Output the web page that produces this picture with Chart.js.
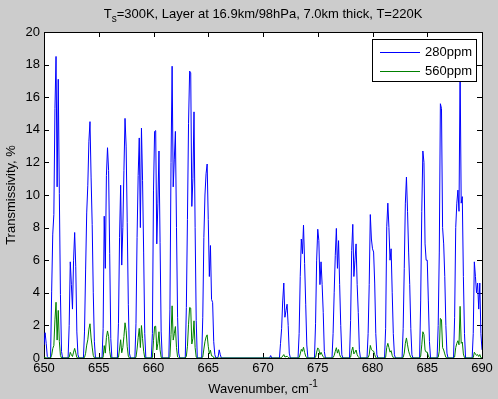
<!DOCTYPE html>
<html>
<head>
<meta charset="utf-8">
<title>Transmissivity</title>
<script src="https://cdn.jsdelivr.net/npm/chart.js@4.4.1/dist/chart.umd.min.js"></script>
<style>
  body { margin: 0; background: #cccccc; }
  #wrap { width: 498px; height: 399px; }
</style>
</head>
<body>
<div id="wrap"><canvas id="chart" width="498" height="399"></canvas></div>
<script>
// Spectrum, one line group per absorption-line cluster
const wavenumber = [
    650.0, 650.1, 650.2, 650.3, 650.4,
    650.6, 650.7, 650.8, 650.9, 651.0, 651.1, 651.2, 651.3, 651.4, 651.5, 651.6, 651.7,
    652.2, 652.3, 652.4, 652.5, 652.6, 652.7, 652.8, 652.9, 653.0, 653.1, 653.2,
    653.6, 653.7, 653.8, 653.9, 654.0, 654.1, 654.2, 654.3, 654.4, 654.5, 654.6, 654.7,
    655.3, 655.4, 655.5, 655.6, 655.7, 655.8, 655.9, 656.0, 656.1, 656.2,
    656.7, 656.8, 656.9, 657.0, 657.1, 657.2, 657.3, 657.4, 657.5, 657.6, 657.7, 657.8, 657.9,
    658.3, 658.4, 658.5, 658.6, 658.7, 658.8, 658.9, 659.0, 659.1, 659.2, 659.3,
    659.8, 659.9, 660.0, 660.1, 660.2, 660.3, 660.4, 660.5, 660.6, 660.7, 660.8,
    661.4, 661.5, 661.6, 661.7, 661.8, 661.9, 662.0, 662.1, 662.2, 662.3, 662.4,
    662.9, 663.0, 663.1, 663.2, 663.3, 663.4, 663.5, 663.6, 663.7, 663.8, 663.9, 664.0,
    664.4, 664.5, 664.6, 664.7, 664.8, 664.9, 665.0, 665.1, 665.2, 665.3, 665.4, 665.5, 665.6, 665.7,
    665.9, 666.0, 666.1, 666.2,
    670.6, 670.7, 670.8,
    671.5, 671.6, 671.7, 671.8, 671.9, 672.0, 672.1, 672.2, 672.3, 672.4, 672.5,
    673.2, 673.3, 673.4, 673.5, 673.6, 673.7, 673.8, 673.9, 674.0, 674.1,
    674.7, 674.8, 674.9, 675.0, 675.1, 675.2, 675.3, 675.4, 675.5, 675.6, 675.7,
    676.3, 676.4, 676.5, 676.6, 676.7, 676.8, 676.9, 677.0, 677.1, 677.2, 677.3,
    677.9, 678.0, 678.1, 678.2, 678.3, 678.4, 678.5, 678.6, 678.7, 678.8, 678.9,
    679.5, 679.6, 679.7, 679.8, 679.9, 680.0, 680.1, 680.2, 680.3, 680.4, 680.5,
    681.1, 681.2, 681.3, 681.4, 681.5, 681.6, 681.7, 681.8, 681.9, 682.0, 682.1,
    682.7, 682.8, 682.9, 683.0, 683.1, 683.2, 683.3, 683.4, 683.5, 683.6, 683.7,
    684.3, 684.4, 684.5, 684.6, 684.7, 684.8, 684.9, 685.0, 685.1, 685.2, 685.3,
    685.9, 686.0, 686.1, 686.2, 686.3, 686.4, 686.5, 686.6, 686.7, 686.8, 686.9,
    687.4, 687.5, 687.6, 687.7, 687.8, 687.9, 688.0, 688.1, 688.2, 688.3, 688.4, 688.5,
    689.1, 689.2, 689.3, 689.4, 689.5, 689.6, 689.7, 689.8, 689.9, 690.0
];

const trans280 = [
    0.8, 1.55, 0.9, 0.1, 0,
    0, 4.1, 7.6, 8.8, 15.3, 18.5, 10.5, 17.1, 10.1, 3.9, 0.4, 0,
    0, 2.0, 5.9, 4.5, 3.0, 6.0, 7.7, 5.6, 1.6, 0.2, 0,
    0, 1.6, 5.4, 8.9, 10.6, 13.3, 14.5, 11.1, 8.2, 4.0, 1.0, 0,
    0, 1.8, 8.7, 5.5, 11.2, 12.9, 11.5, 6.4, 1.2, 0,
    0, 2.1, 7.4, 10.6, 5.7, 8.0, 11.5, 14.7, 13.0, 8.3, 3.3, 0.3, 0,
    0, 2.1, 7.4, 11.2, 13.5, 8.0, 14.1, 10.9, 6.5, 1.5, 0,
    0, 1.5, 10.3, 13.9, 13.95, 7.0, 9.5, 12.7, 7.1, 1.6, 0,
    0, 3.0, 12.0, 17.9, 10.5, 12.2, 13.9, 8.0, 2.5, 0.3, 0,
    0, 3.1, 8.5, 14.4, 17.6, 17.5, 9.3, 11.0, 15.1, 8.0, 2.3, 0,
    0, 2.5, 7.4, 10.0, 11.3, 11.9, 8.5, 5.0, 6.9, 3.6, 3.4, 1.0, 0.2, 0,
    0.05, 0.5, 0.2, 0,
    0, 0.15, 0,
    0, 0.9, 1.8, 3.5, 4.6, 2.5, 2.9, 3.3, 2.0, 0.3, 0,
    0, 1.5, 5.0, 7.3, 6.4, 8.15, 5.8, 3.3, 0.8, 0,
    0, 2.1, 6.0, 7.9, 7.2, 4.5, 5.9, 4.5, 2.8, 0.4, 0,
    0, 1.5, 4.0, 6.3, 7.95, 5.5, 7.2, 4.5, 2.0, 0.2, 0,
    0, 2.3, 6.6, 8.2, 5.0, 6.0, 7.0, 4.5, 2.8, 0.5, 0,
    0, 1.5, 4.5, 8.8, 7.3, 6.7, 6.5, 4.6, 1.5, 0.2, 0,
    0, 1.8, 8.05, 9.5, 8.0, 6.0, 6.7, 4.0, 1.5, 0.2, 0,
    0, 1.8, 5.5, 9.5, 11.1, 9.0, 6.5, 4.5, 1.8, 0.2, 0,
    0, 3.5, 9.0, 12.7, 12.0, 7.0, 6.0, 6.0, 3.5, 1.0, 0,
    0, 2.0, 6.5, 15.6, 15.3, 8.0, 7.0, 5.0, 2.0, 0.3, 0,
    0, 2.5, 8.0, 9.5, 10.3, 9.0, 17.8, 9.5, 9.9, 5.0, 1.5, 0,
    0, 1.5, 5.9, 5.0, 4.0, 4.6, 3.0, 4.6, 1.5, 0.5
];

const trans560 = [
    0.01, 0.02, 0.01, 0, 0,
    0, 0.17, 0.58, 0.77, 2.34, 3.42, 1.1, 2.92, 1.02, 0.15, 0, 0,
    0, 0.04, 0.35, 0.2, 0.09, 0.36, 0.59, 0.31, 0.03, 0, 0,
    0, 0.03, 0.29, 0.79, 1.12, 1.77, 2.1, 1.23, 0.67, 0.16, 0.01, 0,
    0, 0.03, 0.76, 0.3, 1.25, 1.66, 1.32, 0.41, 0.01, 0,
    0, 0.04, 0.55, 1.12, 0.32, 0.64, 1.32, 2.16, 1.69, 0.69, 0.11, 0, 0,
    0, 0.04, 0.55, 1.25, 1.82, 0.64, 1.99, 1.19, 0.42, 0.02, 0,
    0, 0.02, 1.06, 1.93, 1.95, 0.49, 0.9, 1.61, 0.5, 0.03, 0,
    0, 0.09, 1.44, 3.2, 1.1, 1.49, 1.93, 0.64, 0.06, 0, 0,
    0, 0.1, 0.72, 2.07, 3.1, 3.06, 0.86, 1.21, 2.28, 0.64, 0.05, 0,
    0, 0.06, 0.55, 1.0, 1.28, 1.42, 0.72, 0.25, 0.48, 0.13, 0.12, 0.01, 0, 0,
    0, 0, 0, 0,
    0, 0, 0,
    0, 0.01, 0.03, 0.12, 0.21, 0.06, 0.08, 0.11, 0.04, 0, 0,
    0, 0.02, 0.25, 0.53, 0.41, 0.66, 0.34, 0.11, 0.01, 0,
    0, 0.04, 0.36, 0.62, 0.52, 0.2, 0.35, 0.2, 0.08, 0, 0,
    0, 0.02, 0.16, 0.4, 0.63, 0.3, 0.52, 0.2, 0.04, 0, 0,
    0, 0.05, 0.44, 0.67, 0.25, 0.36, 0.49, 0.2, 0.08, 0, 0,
    0, 0.02, 0.2, 0.77, 0.53, 0.45, 0.42, 0.21, 0.02, 0, 0,
    0, 0.03, 0.65, 0.9, 0.64, 0.36, 0.45, 0.16, 0.02, 0, 0,
    0, 0.03, 0.3, 0.9, 1.23, 0.81, 0.42, 0.2, 0.03, 0, 0,
    0, 0.12, 0.81, 1.61, 1.44, 0.49, 0.36, 0.36, 0.12, 0.01, 0,
    0, 0.04, 0.42, 2.43, 2.34, 0.64, 0.49, 0.25, 0.04, 0, 0,
    0, 0.06, 0.64, 0.9, 1.06, 0.81, 3.17, 0.9, 0.98, 0.25, 0.02, 0,
    0, 0.02, 0.35, 0.25, 0.16, 0.21, 0.09, 0.21, 0.02, 0
];

const xTicks = [650, 655, 660, 665, 670, 675, 680, 685, 690];
const yTicks = [0, 2, 4, 6, 8, 10, 12, 14, 16, 18, 20];
const seriesNames = ['280ppm', '560ppm'];

const FONT = '"Liberation Sans", Arial, sans-serif';

function toPoints(values) {
    return wavenumber.map((x, i) => ({ x: x, y: values[i] }));
}

// text with a raised or lowered piece, e.g. T_s or cm^-1
function drawRichText(ctx, parts, cx, baseline) {
    let width = 0;
    parts.forEach(p => {
        ctx.font = (p.shift ? 10 : 13) + 'px ' + FONT;
        p.w = ctx.measureText(p.text).width;
        width += p.w;
    });
    let x = cx - width / 2;
    parts.forEach(p => {
        ctx.font = (p.shift ? 10 : 13) + 'px ' + FONT;
        ctx.fillText(p.text, x, baseline + (p.shift || 0));
        x += p.w;
    });
}

const matlabFrame = {
    id: 'matlabFrame',
    beforeDraw(chart) {
        const ctx = chart.ctx;
        const a = chart.chartArea;
        ctx.save();
        ctx.fillStyle = '#cccccc';
        ctx.fillRect(0, 0, chart.width, chart.height);
        ctx.fillStyle = '#ffffff';
        ctx.fillRect(a.left, a.top, a.right - a.left, a.bottom - a.top);
        ctx.restore();
    },
    // box and ticks go under the curves, like MATLAB does
    beforeDatasetsDraw(chart) {
        const ctx = chart.ctx;
        const a = chart.chartArea;
        const xs = chart.scales.x;
        const ys = chart.scales.y;
        ctx.save();
        ctx.strokeStyle = '#000000';
        ctx.lineWidth = 1;
        ctx.beginPath();
        xTicks.forEach(v => {
            const px = Math.round(xs.getPixelForValue(v)) + 0.5;
            ctx.moveTo(px, a.bottom);
            ctx.lineTo(px, a.bottom - 5);
            ctx.moveTo(px, a.top);
            ctx.lineTo(px, a.top + 5);
        });
        yTicks.forEach(v => {
            const py = Math.round(ys.getPixelForValue(v)) + 0.5;
            ctx.moveTo(a.left, py);
            ctx.lineTo(a.left + 5, py);
            ctx.moveTo(a.right, py);
            ctx.lineTo(a.right - 5, py);
        });
        ctx.stroke();
        ctx.strokeRect(Math.round(a.left) + 0.5, Math.round(a.top) + 0.5,
            Math.round(a.right - a.left), Math.round(a.bottom - a.top));
        ctx.restore();
    },
    afterDraw(chart) {
        const ctx = chart.ctx;
        const a = chart.chartArea;
        ctx.save();

        // title and axis labels
        ctx.fillStyle = '#000000';
        ctx.textAlign = 'left';
        ctx.textBaseline = 'alphabetic';
        drawRichText(ctx, [
            { text: 'T' },
            { text: 's', shift: 4 },
            { text: '=300K, Layer at 16.9km/98hPa, 7.0km thick, T=220K' }
        ], (a.left + a.right) / 2, 18);
        drawRichText(ctx, [
            { text: 'Wavenumber, cm' },
            { text: '-1', shift: -6 }
        ], (a.left + a.right) / 2, 393);

        ctx.save();
        ctx.translate(15, (a.top + a.bottom) / 2);
        ctx.rotate(-Math.PI / 2);
        ctx.textAlign = 'center';
        ctx.font = '13px ' + FONT;
        ctx.fillText('Transmissivity, %', 0, 0);
        ctx.restore();

        // legend box
        const lx = 372.5, ly = 39.5, lw = 104, lh = 42;
        ctx.fillStyle = '#ffffff';
        ctx.fillRect(lx, ly, lw, lh);
        ctx.strokeStyle = '#000000';
        ctx.lineWidth = 1;
        ctx.strokeRect(lx, ly, lw, lh);
        ctx.font = '13px ' + FONT;
        ctx.textBaseline = 'middle';
        chart.data.datasets.forEach((ds, i) => {
            const y = 52.5 + i * 19;
            ctx.strokeStyle = ds.borderColor;
            ctx.beginPath();
            ctx.moveTo(380, y);
            ctx.lineTo(420, y);
            ctx.stroke();
            ctx.fillStyle = '#000000';
            ctx.fillText(ds.label, 425, y);
        });
        ctx.restore();
    }
};

new Chart(document.getElementById('chart'), {
    type: 'line',
    data: {
        datasets: [
            {
                label: seriesNames[0],
                data: toPoints(trans280),
                borderColor: '#0000ff',
                borderWidth: 1,
                pointRadius: 0,
                tension: 0,
                order: 2
            },
            {
                label: seriesNames[1],
                data: toPoints(trans560),
                borderColor: '#008000',
                borderWidth: 1,
                pointRadius: 0,
                tension: 0,
                order: 1
            }
        ]
    },
    options: {
        responsive: false,
        animation: false,
        events: [],
        layout: { padding: { left: 0, top: 32, right: 16, bottom: 0 } },
        plugins: {
            legend: { display: false },
            title: { display: false },
            tooltip: { enabled: false }
        },
        scales: {
            x: {
                type: 'linear',
                min: 650,
                max: 690,
                afterBuildTicks: s => { s.ticks = xTicks.map(v => ({ value: v })); },
                afterFit: s => { s.height = 41; },
                grid: { display: false, drawTicks: false },
                border: { display: false },
                ticks: {
                    autoSkip: false,
                    maxRotation: 0,
                    padding: 3,
                    color: '#000000',
                    font: { family: FONT, size: 13 }
                }
            },
            y: {
                min: 0,
                max: 20,
                afterBuildTicks: s => { s.ticks = yTicks.map(v => ({ value: v })); },
                afterFit: s => { s.width = 44; },
                grid: { display: false, drawTicks: false },
                border: { display: false },
                ticks: {
                    padding: 4,
                    color: '#000000',
                    font: { family: FONT, size: 13 }
                }
            }
        }
    },
    plugins: [matlabFrame]
});
</script>
</body>
</html>
